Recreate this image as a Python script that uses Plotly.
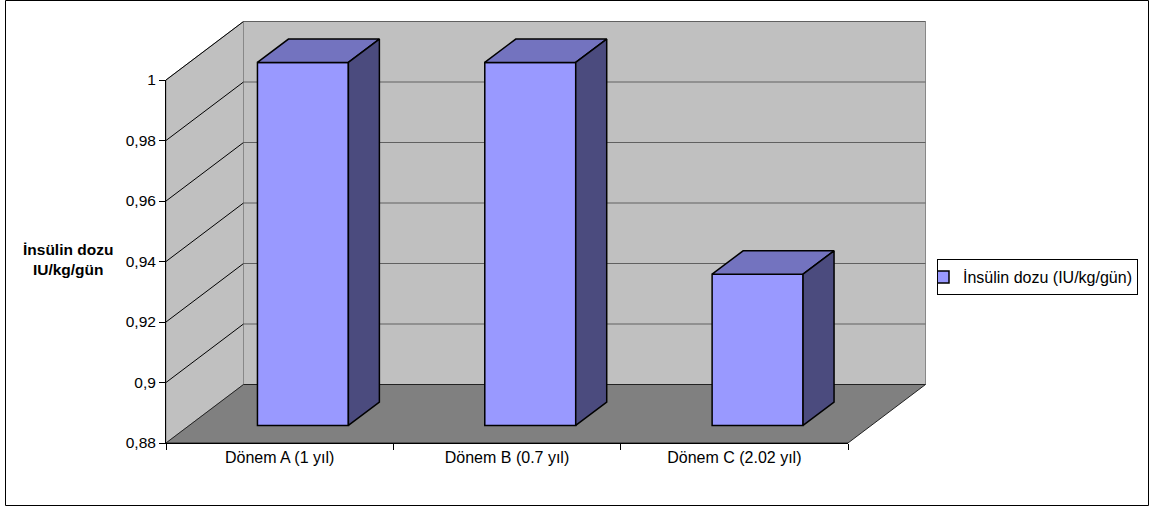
import plotly.graph_objects as go

# ---- data -------------------------------------------------------------
categories = ["Dönem A (1 yıl)", "Dönem B (0.7 yıl)", "Dönem C (2.02 yıl)"]
dose = [1.0, 1.0, 0.93]
series_name = "İnsülin dozu (IU/kg/gün)"
y_title_lines = ["İnsülin dozu", "IU/kg/gün"]
tick_values = [0.88, 0.90, 0.92, 0.94, 0.96, 0.98, 1.00]
tick_labels = ["0,88", "0,9", "0,92", "0,94", "0,96", "0,98", "1"]

# ---- page geometry (pixels) -------------------------------------------
W, H = 1152, 507
X_LEFT, X_RIGHT = 166, 848         # front edge of the floor
Y_LOW, Y_HIGH = 443, 80            # front pixel rows of 0.88 and 1.00
VMIN, VMAX = tick_values[0], tick_values[-1]
N = len(categories)

CW = (X_RIGHT - X_LEFT) / N                 # pixels per category
K = (Y_LOW - Y_HIGH) / (VMAX - VMIN)        # pixels per value unit

# oblique depth of the 3-D box, expressed in data units
DX = 77.5 / CW
DY = 58.5 / K
BAR_W = 0.4                # bar width (category units)
D_FRONT, D_BACK = 0.3, 0.7  # bar depth span as a fraction of the box depth

x_range = [-X_LEFT / CW, (W - X_LEFT) / CW]
y_range = [VMIN - (H - Y_LOW) / K, VMIN + Y_LOW / K]

FRONT = "#9999FF"
TOP = "#7373BF"
SIDE = "#4B4B7E"
WALL = "#C0C0C0"
FLOOR = "#808080"

fig = go.Figure()

# ---- walls, floor and gridlines (drawn beneath the bars) ---------------
shapes = []


def path(points):
    return "M " + " L ".join(f"{x},{y}" for x, y in points) + " Z"


# side wall
shapes.append(dict(type="path", xref="x", yref="y", layer="below",
                   path=path([(0, VMIN), (0, VMAX), (DX, VMAX + DY), (DX, VMIN + DY)]),
                   fillcolor=WALL, line=dict(color="#888888", width=1)))
# back wall
shapes.append(dict(type="path", xref="x", yref="y", layer="below",
                   path=path([(DX, VMIN + DY), (N + DX, VMIN + DY),
                              (N + DX, VMAX + DY), (DX, VMAX + DY)]),
                   fillcolor=WALL, line=dict(color="#888888", width=1)))
# gridlines: diagonal on the side wall, horizontal on the back wall
for t in tick_values[1:]:
    shapes.append(dict(type="line", xref="x", yref="y", layer="below",
                       x0=0, y0=t, x1=DX, y1=t + DY,
                       line=dict(color="#000000", width=1)))
    shapes.append(dict(type="line", xref="x", yref="y", layer="below",
                       x0=DX, y0=t + DY, x1=N + DX, y1=t + DY,
                       line=dict(color="#606060", width=1)))
# floor
shapes.append(dict(type="path", xref="x", yref="y", layer="below",
                   path=path([(0, VMIN), (N, VMIN), (N + DX, VMIN + DY), (DX, VMIN + DY)]),
                   fillcolor=FLOOR, line=dict(color="#222222", width=1)))

# ---- bars: front faces as a bar trace ----------------------------------
front_x = [i + 0.5 + D_FRONT * DX for i in range(N)]
base = VMIN + D_FRONT * DY
fig.add_trace(go.Bar(
    x=front_x, y=[v - VMIN for v in dose], base=base, width=BAR_W,
    marker=dict(color=FRONT, line=dict(color="#000000", width=1.5)),
    name=series_name, showlegend=True, hoverinfo="skip",
))

# top and side faces
depth = D_BACK - D_FRONT
for xc, v in zip(front_x, dose):
    xl, xr = xc - BAR_W / 2, xc + BAR_W / 2
    vt = v + D_FRONT * DY
    ddx, ddy = depth * DX, depth * DY
    fig.add_trace(go.Scatter(
        x=[xl, xr, xr + ddx, xl + ddx, xl], y=[vt, vt, vt + ddy, vt + ddy, vt],
        mode="lines", fill="toself", fillcolor=TOP,
        line=dict(color="#000000", width=1.5), showlegend=False, hoverinfo="skip"))
    fig.add_trace(go.Scatter(
        x=[xr, xr, xr + ddx, xr + ddx, xr], y=[base, vt, vt + ddy, base + ddy, base],
        mode="lines", fill="toself", fillcolor=SIDE,
        line=dict(color="#000000", width=1.5), showlegend=False, hoverinfo="skip"))

# ---- front axes carrying the tick labels -------------------------------
fig.add_trace(go.Scatter(x=categories, y=[None] * N, xaxis="x2", yaxis="y2",
                         mode="markers", showlegend=False, hoverinfo="skip"))

# outer frame
shapes.append(dict(type="rect", xref="paper", yref="paper",
                   x0=5.5 / W, x1=1148.5 / W, y0=1 - 505.5 / H, y1=1 - 0.5 / H,
                   line=dict(color="#000000", width=1), fillcolor="rgba(0,0,0,0)"))

FAMILY = "Arial, 'Liberation Sans', sans-serif"
font = dict(family=FAMILY, size=16, color="#000000")
tick_font = dict(family=FAMILY, size=15.5, color="#000000")

fig.update_layout(
    template="none",
    width=W, height=H, autosize=False,
    margin=dict(l=0, r=0, t=0, b=0, pad=0, autoexpand=False),
    paper_bgcolor="#FFFFFF", plot_bgcolor="rgba(0,0,0,0)",
    font=font,
    shapes=shapes,
    showlegend=True,
    legend=dict(x=937 / W, y=1 - 259 / H, xanchor="left", yanchor="top",
                bgcolor="#FFFFFF", bordercolor="#000000", borderwidth=1,
                font=font, itemwidth=30, indentation=-15),
    xaxis=dict(range=x_range, domain=[0, 1], visible=False, fixedrange=True,
               automargin=False),
    yaxis=dict(range=y_range, domain=[0, 1], visible=False, fixedrange=True,
               automargin=False),
    xaxis2=dict(domain=[X_LEFT / W, X_RIGHT / W], anchor="y2", type="category",
                categoryarray=categories, categoryorder="array",
                range=[-0.5, N - 0.5], tickson="boundaries", automargin=False,
                showline=True, linecolor="#000000", linewidth=1,
                ticks="outside", ticklen=6, tickcolor="#000000",
                showgrid=False, zeroline=False, fixedrange=True, tickfont=font),
    yaxis2=dict(domain=[1 - Y_LOW / H, 1 - Y_HIGH / H], anchor="x2",
                range=[VMIN, VMAX], tickvals=tick_values, ticktext=tick_labels,
                automargin=False,
                showline=True, linecolor="#000000", linewidth=1,
                ticks="outside", ticklen=6, tickcolor="#000000",
                showgrid=False, zeroline=False, fixedrange=True, tickfont=tick_font),
    annotations=[dict(
        xref="paper", yref="paper", x=68 / W, y=1 - 259 / H,
        xanchor="center", yanchor="middle", align="center", showarrow=False,
        text="<br>".join(f"<b>{s}</b>" for s in y_title_lines),
        font=dict(family=FAMILY, size=15.5, color="#000000"))],
)

fig.write_html("out.html", config={"displayModeBar": False})
